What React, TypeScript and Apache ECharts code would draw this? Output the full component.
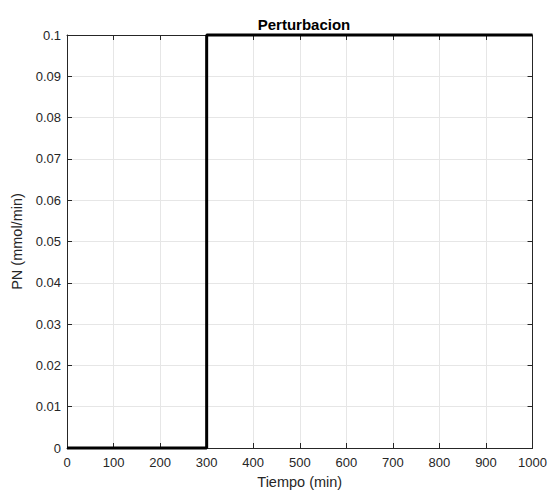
import React, { useEffect, useRef } from "react";
import * as echarts from "echarts";

const stepTimes = [0, 300, 300, 1000];
const stepValues = [0, 0, 0.1, 0.1];
const xTicks = [0, 100, 200, 300, 400, 500, 600, 700, 800, 900, 1000];
const titleText = "Perturbacion";
const xLabel = "Tiempo (min)";
const yLabel = "PN (mmol/min)";

export default function App() {
  const ref = useRef<HTMLDivElement>(null);
  useEffect(() => {
    if (!ref.current) return;
    const chart = echarts.init(ref.current, undefined, { renderer: "svg" });
    const font = "Liberation Sans, Arial, Helvetica, sans-serif";
    const axisColor = "#262626";
    const gridColor = "#e6e6e6";
    const baseX = {
      type: "value" as const,
      min: xTicks[0],
      max: xTicks[xTicks.length - 1],
      interval: 100,
      axisLine: { show: true, onZero: false, lineStyle: { color: axisColor, width: 1 } },
      axisTick: { show: true, inside: true, length: 5, lineStyle: { color: axisColor } },
    };
    const baseY = {
      type: "value" as const,
      min: 0,
      max: 0.1,
      interval: 0.01,
      axisLine: { show: true, onZero: false, lineStyle: { color: axisColor, width: 1 } },
      axisTick: { show: true, inside: true, length: 5, lineStyle: { color: axisColor } },
    };
    chart.setOption({
      animation: false,
      backgroundColor: "#ffffff",
      title: {
        text: titleText,
        left: 299,
        textAlign: "center",
        top: 12,
        textStyle: { fontFamily: font, fontSize: 15, fontWeight: "bold", color: "#000" },
      },
      grid: { left: 67, right: 15, top: 35, bottom: 43, containLabel: false },
      xAxis: [
        {
          ...baseX,
          position: "bottom",
          name: xLabel,
          nameLocation: "middle",
          nameGap: 26,
          nameTextStyle: { fontFamily: font, fontSize: 14.5, color: "#262626" },
          axisLabel: {
            fontFamily: font,
            fontSize: 13,
            color: "#262626",
            margin: 8,
            formatter: (v: number) => String(v),
          },
          splitLine: { show: true, lineStyle: { color: gridColor, width: 1 } },
        },
        {
          ...baseX,
          position: "top",
          axisLabel: { show: false },
          splitLine: { show: false },
        },
      ],
      yAxis: [
        {
          ...baseY,
          position: "left",
          name: yLabel,
          nameLocation: "middle",
          nameGap: 37,
          nameTextStyle: { fontFamily: font, fontSize: 14.5, color: "#262626" },
          axisLabel: {
            fontFamily: font,
            fontSize: 13,
            color: "#262626",
            margin: 6,
            formatter: (v: number) => String(parseFloat(v.toFixed(2))),
          },
          splitLine: { show: true, lineStyle: { color: gridColor, width: 1 } },
        },
        {
          ...baseY,
          position: "right",
          axisLabel: { show: false },
          splitLine: { show: false },
        },
      ],
      series: [
        {
          type: "line",
          xAxisIndex: 0,
          yAxisIndex: 0,
          data: stepTimes.map((t, i) => [t, stepValues[i]]),
          showSymbol: false,
          symbol: "none",
          clip: false,
          lineStyle: { color: "#000000", width: 3 },
          z: 10,
        },
      ],
    });
    return () => chart.dispose();
  }, []);
  return <div ref={ref} style={{ width: 550, height: 494, position: "absolute", left: 0, top: 0 }} />;
}
